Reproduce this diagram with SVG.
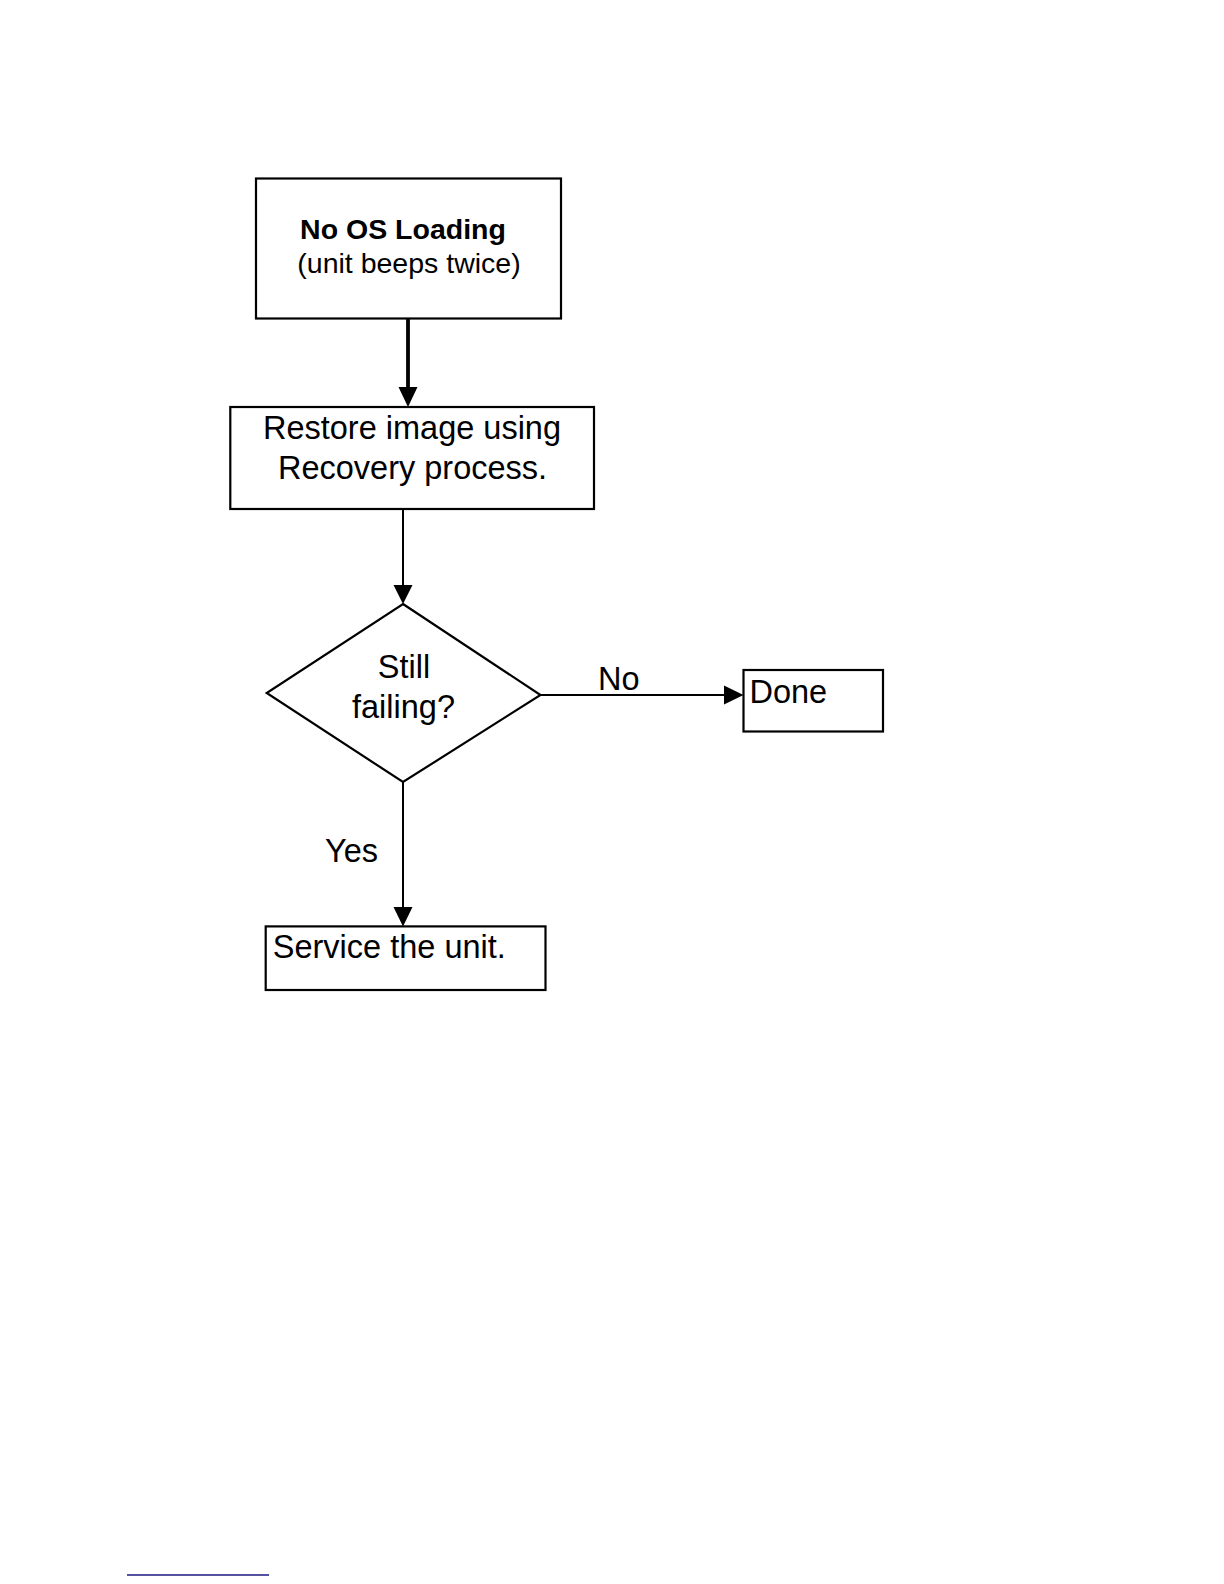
<svg xmlns="http://www.w3.org/2000/svg" width="1224" height="1584" viewBox="0 0 1224 1584">
<style>
.box{fill:#fff;stroke:#000;stroke-width:2.2}
.t{font-family:"Liberation Sans",Arial,sans-serif;fill:#000;font-size:32.5px}
.s{font-family:"Liberation Sans",Arial,sans-serif;fill:#000;font-size:28.5px}
.c{stroke:#000;stroke-width:2;fill:none}
.head{fill:#000}
</style>
<rect width="1224" height="1584" fill="#fff"/>
<g id="connectors">
<line x1="408" y1="318" x2="408" y2="390" stroke="#000" stroke-width="3.8"/>
<path class="head" d="M398.5,387 L417.5,387 L408,407 Z"/>
<path class="c" d="M403,509 L403,587"/>
<path class="head" d="M393.5,585 L412.5,585 L403,604 Z"/>
<path class="c" d="M540.5,695 L726,695"/>
<path class="head" d="M724,685.5 L743.5,695 L724,704.5 Z"/>
<path class="c" d="M403,782 L403,910"/>
<path class="head" d="M393.5,907 L412.5,907 L403,926.4 Z"/>
<text class="t" x="598" y="690">No</text>
<text class="t" x="325" y="862">Yes</text>
</g>
<g id="n1">
<rect class="box" x="256" y="178.5" width="305" height="140"/>
<text class="s" x="403" y="238.5" font-weight="bold" text-anchor="middle">No OS Loading</text>
<text class="s" x="409" y="273" text-anchor="middle">(unit beeps twice)</text>
</g>
<g id="n2">
<rect class="box" x="230.3" y="407" width="363.7" height="102"/>
<text class="t" x="412" y="438.5" text-anchor="middle">Restore image using</text>
<text class="t" x="412.5" y="478.5" text-anchor="middle">Recovery process.</text>
</g>
<g id="n3">
<path class="box" d="M403,604 L540.5,695 L403,782 L266.7,693 Z"/>
<text class="t" x="404" y="677.5" text-anchor="middle">Still</text>
<text class="t" x="403.5" y="718" text-anchor="middle">failing?</text>
</g>
<g id="n4">
<rect class="box" x="743.5" y="670" width="139.5" height="61.5"/>
<text class="t" x="749.5" y="703">Done</text>
</g>
<g id="n5">
<rect class="box" x="265.7" y="926.4" width="279.8" height="63.6"/>
<text class="t" x="272.8" y="957.5">Service the unit.</text>
</g>
<line x1="127" y1="1575" x2="269" y2="1575" stroke="#1a1a80" stroke-width="1.6"/>
</svg>
